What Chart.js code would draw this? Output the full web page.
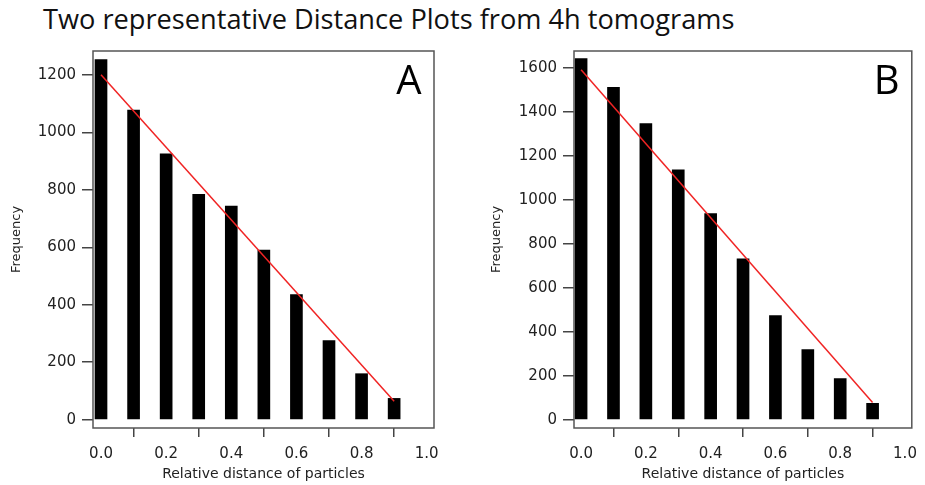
<!DOCTYPE html>
<html>
<head>
<meta charset="utf-8">
<script src="https://cdn.jsdelivr.net/npm/chart.js@4.4.1/dist/chart.umd.min.js"></script>
<style>
body{margin:0;background:#fff;width:925px;height:485px;position:relative;overflow:hidden;}
#title{position:absolute;left:43px;top:4px;font-family:"Open Sans";font-size:27.2px;line-height:30px;color:#111;white-space:nowrap;}
canvas{position:absolute;}
</style>
</head>
<body>
<div id="title">Two representative Distance Plots from 4h tomograms</div>
<canvas id="chartA" width="462" height="449" style="left:0;top:36px"></canvas>
<canvas id="chartB" width="463" height="449" style="left:462px;top:36px"></canvas>
<script>
// relative distance bins (x) and frequencies
const distances = [0.0, 0.1, 0.2, 0.3, 0.4, 0.5, 0.6, 0.7, 0.8, 0.9];
const freqA = [1253, 1077, 925, 784, 743, 590, 435, 275, 160, 74];
const freqB = [1643, 1512, 1347, 1137, 937, 731, 473, 319, 187, 74];

// red linear fit, start and end points
const fitX = [0.0, 0.9];
const fitA = [1200, 64];
const fitB = [1592, 78];

const xTicks = [0.0, 0.2, 0.4, 0.6, 0.8, 1.0];
const yTicksA = [0, 200, 400, 600, 800, 1000, 1200];
const yTicksB = [0, 200, 400, 600, 800, 1000, 1200, 1400, 1600];

const axisGrey = "#444";
const textGrey = "#222";

const framePlugin = {
    id: "frame",
    afterDraw(chart, args, opts) {
        const {ctx, chartArea: a} = chart;
        ctx.save();
        ctx.strokeStyle = "#555";
        ctx.lineWidth = 1.5;
        ctx.strokeRect(a.left, a.top, a.right - a.left, a.bottom - a.top);
        ctx.fillStyle = "#000";
        ctx.font = "40px 'Open Sans'";
        ctx.textAlign = "center";
        ctx.textBaseline = "alphabetic";
        ctx.fillText(opts.letter, a.right - 25, a.top + 43);
        ctx.restore();
    }
};

function makeChart(id, freq, fit, yTicks, cfg){

    const bars = distances.map((d, i) => ({x: d, y: freq[i]}));
    const line = fitX.map((d, i) => ({x: d, y: fit[i]}));

    return new Chart(document.getElementById(id), {
        type: "bar",
        data: {
            datasets: [
                {
                    type: "line",
                    data: line,
                    borderColor: "#f02424",
                    borderWidth: 1.5,
                    pointRadius: 0,
                    fill: false
                },
                {
                    data: bars,
                    backgroundColor: "#000",
                    borderWidth: 0,
                    barThickness: 12
                }
            ]
        },
        options: {
            responsive: false,
            animation: false,
            layout: {
                padding: cfg.padding
            },
            plugins: {
                legend: {display: false},
                tooltip: {enabled: false},
                frame: {letter: cfg.letter}
            },
            scales: {
                x: {
                    type: "linear",
                    min: cfg.xMin,
                    max: cfg.xMax,
                    offset: false,
                    afterBuildTicks: s => { s.ticks = xTicks.map(v => ({value: v})); },
                    afterFit: s => { s.height = 57; },
                    grid: {
                        drawOnChartArea: false,
                        drawTicks: true,
                        tickLength: 9,
                        color: axisGrey,
                        lineWidth: 1.5
                    },
                    border: {display: false},
                    ticks: {
                        padding: 8,
                        color: textGrey,
                        font: {family: "DejaVu Sans", size: 15},
                        callback: v => v.toFixed(1)
                    },
                    title: {
                        display: true,
                        text: "Relative distance of particles",
                        color: textGrey,
                        font: {family: "DejaVu Sans", size: 14},
                        padding: {top: 0, bottom: 2}
                    }
                },
                y: {
                    min: cfg.yMin,
                    max: cfg.yMax,
                    afterBuildTicks: s => { s.ticks = yTicks.map(v => ({value: v})); },
                    afterFit: s => { s.width = cfg.yWidth; },
                    grid: {
                        drawOnChartArea: false,
                        drawTicks: true,
                        tickLength: 11,
                        color: axisGrey,
                        lineWidth: 1.5
                    },
                    border: {display: false},
                    ticks: {
                        padding: 6,
                        color: textGrey,
                        font: {family: "DejaVu Sans", size: 15},
                        callback: v => String(v)
                    },
                    title: {
                        display: true,
                        text: "Frequency",
                        color: textGrey,
                        font: {family: "DejaVu Sans", size: 13},
                        padding: {top: cfg.yTitlePad, bottom: 0}
                    }
                }
            }
        },
        plugins: [framePlugin]
    });
}

makeChart("chartA", freqA, fitA, yTicksA, {
    letter: "A",
    padding: {left: 0, top: 8, right: 28, bottom: 0},
    yWidth: 93,
    yTitlePad: 9,
    xMin: -0.0246, xMax: 1.0224,
    yMin: -29, yMax: 1283
});

makeChart("chartB", freqB, fitB, yTicksB, {
    letter: "B",
    padding: {left: 0, top: 9, right: 4, bottom: 0},
    yWidth: 112,
    yTitlePad: 27,
    xMin: -0.0219, xMax: 1.021,
    yMin: -38, yMax: 1677
});
</script>
</body>
</html>
